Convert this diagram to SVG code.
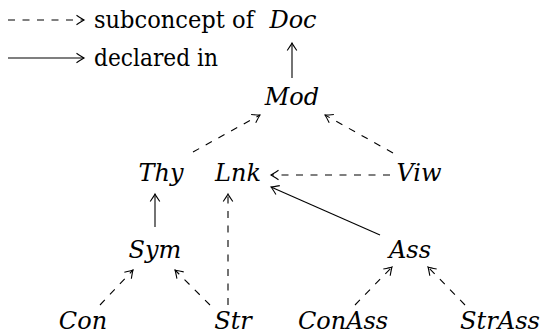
<svg xmlns="http://www.w3.org/2000/svg" width="542" height="334" viewBox="0 0 542 334">
<style>
.n{font-family:'DejaVu Serif','Liberation Serif',serif;font-style:italic;font-size:24px;fill:#000;text-anchor:middle}
.l{font-family:'DejaVu Serif','Liberation Serif',serif;font-size:24px;fill:#000}
.s{stroke:#000;stroke-width:1.1;fill:none;marker-end:url(#ah)}
.d{stroke:#000;stroke-width:1.1;fill:none;stroke-dasharray:7 7.5;marker-end:url(#ah)}
</style>
<defs>
<marker id="ah" markerUnits="userSpaceOnUse" viewBox="-9 -6 11 12" refX="0" refY="0" markerWidth="11" markerHeight="12" orient="auto" overflow="visible">
<path d="M-7.5,-4.8 Q-2,-1 0,0 Q-2,1 -7.5,4.8" fill="none" stroke="#000" stroke-width="1.1" stroke-dasharray="none"/>
</marker>
</defs>
<g id="legend">
<line class="d" x1="8" y1="20" x2="84" y2="20"/>
<line class="s" x1="8" y1="58" x2="84" y2="58"/>
<text class="l" x="94" y="28" textLength="160" lengthAdjust="spacingAndGlyphs">subconcept of</text>
<text class="l" x="94" y="66" textLength="124" lengthAdjust="spacingAndGlyphs">declared in</text>
</g>
<g id="connectors">
<line class="s" x1="292" y1="78" x2="292" y2="43"/>
<line class="d" x1="193" y1="152" x2="260" y2="115"/>
<line class="d" x1="393" y1="153" x2="325" y2="115"/>
<line class="d" x1="390" y1="175" x2="271" y2="175"/>
<line class="s" x1="380" y1="235" x2="271" y2="187"/>
<line class="s" x1="155" y1="227" x2="155" y2="194"/>
<line class="d" x1="228" y1="305" x2="228" y2="194"/>
<line class="d" x1="100" y1="305" x2="133" y2="270"/>
<line class="d" x1="210" y1="305" x2="175" y2="270"/>
<line class="d" x1="355" y1="305" x2="392" y2="267"/>
<line class="d" x1="465" y1="305" x2="428" y2="267"/>
</g>
<g id="Doc"><text class="n" x="293" y="28">Doc</text></g>
<g id="Mod"><text class="n" x="292" y="105">Mod</text></g>
<g id="Thy"><text class="n" x="161" y="181">Thy</text></g>
<g id="Lnk"><text class="n" x="238" y="181">Lnk</text></g>
<g id="Viw"><text class="n" x="419" y="181">Viw</text></g>
<g id="Sym"><text class="n" x="155" y="258">Sym</text></g>
<g id="Ass"><text class="n" x="410" y="258">Ass</text></g>
<g id="Con"><text class="n" x="83" y="329">Con</text></g>
<g id="Str"><text class="n" x="233" y="329">Str</text></g>
<g id="ConAss"><text class="n" x="343" y="329">ConAss</text></g>
<g id="StrAss"><text class="n" x="500" y="329" textLength="80" lengthAdjust="spacingAndGlyphs">StrAss</text></g>
</svg>
